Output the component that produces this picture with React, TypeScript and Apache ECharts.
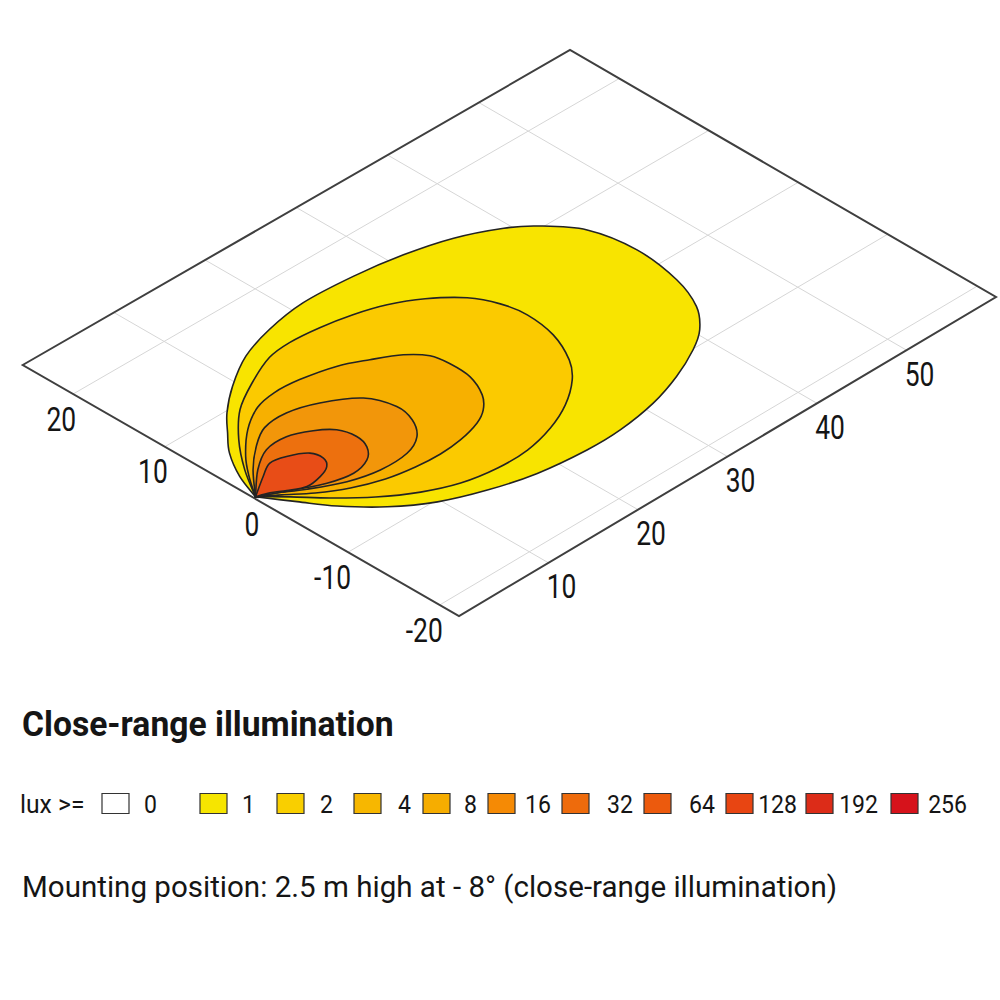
import React, { useEffect, useRef } from 'react';
import * as echarts from 'echarts';

// ---------- data ----------
const DIST_MIN = 0;
const DIST_MAX = 60;
const LAT_MIN = -22.1;
const LAT_MAX = 25.5;
const DIST_TICKS = [10, 20, 30, 40, 50];
const LAT_TICKS = [20, 10, 0, -10, -20];

const LUX_LEVELS = [1, 2, 4, 8, 16, 32];

// isolux outlines, [distance m, lateral m]
const ISO_1 = [[0.2, 0.3], [1.28, 3.09], [2.96, 5.87], [4.77, 7.86], [6.65, 9.79], [9.49, 12.0], [13.08, 14.11], [16.91, 15.35], [21.28, 16.03], [26.57, 15.78], [31.38, 15.06], [35.72, 13.87], [39.43, 12.04], [41.48, 10.4], [43.85, 7.24], [44.7, 2.56], [44.04, -2.51], [42.59, -6.15], [40.55, -8.55], [38.28, -10.08], [34.82, -11.69], [31.0, -12.91], [26.63, -13.6], [22.89, -13.64], [17.92, -13.08], [13.58, -11.88], [9.72, -10.22], [6.49, -7.91], [3.81, -5.07], [2.02, -2.44], [0.2, 0.3]];
const ISO_2 = [[0.2, 0.3], [2.2, 3.45], [4.74, 6.61], [7.68, 9.38], [10.93, 11.26], [14.24, 12.69], [16.77, 13.0], [19.85, 12.75], [22.91, 12.15], [25.73, 11.21], [28.39, 9.67], [30.8, 7.43], [32.04, 5.02], [32.48, 2.48], [32.0, -0.87], [30.5, -4.13], [28.76, -6.19], [25.99, -8.18], [22.97, -9.53], [19.61, -10.34], [16.25, -10.38], [12.78, -9.74], [9.72, -8.37], [6.77, -6.34], [4.2, -3.94], [2.1, -1.62], [0.2, 0.3]];
const ISO_4 = [[0.2, 0.3], [1.79, 2.57], [3.52, 4.65], [6.19, 7.06], [8.82, 8.61], [11.18, 9.09], [13.8, 8.93], [17.08, 8.15], [19.55, 6.94], [21.86, 5.56], [23.23, 3.98], [23.57, 2.11], [23.43, -0.24], [22.38, -2.61], [21.0, -4.09], [19.42, -4.98], [16.88, -5.66], [14.45, -5.88], [11.83, -5.72], [9.04, -5.19], [6.26, -4.1], [3.85, -2.63], [1.85, -0.98], [0.2, 0.3]];
const ISO_8 = [[0.2, 0.3], [2.65, 2.98], [5.06, 5.01], [7.3, 6.32], [9.89, 6.51], [12.68, 5.61], [15.54, 3.67], [16.57, 1.02], [16.15, -1.09], [14.81, -2.94], [12.68, -3.96], [9.62, -4.06], [6.67, -3.32], [3.75, -1.82], [1.75, -0.5], [0.2, 0.3]];
const ISO_16 = [[0.2, 0.3], [2.91, 2.72], [5.3, 4.14], [7.63, 4.26], [9.67, 3.35], [11.05, 2.14], [11.51, 0.4], [11.08, -1.14], [9.84, -2.37], [7.84, -2.89], [5.42, -2.36], [2.95, -1.14], [0.2, 0.3]];
const ISO_32 = [[0.2, 0.3], [2.56, 1.79], [4.21, 2.69], [5.76, 2.39], [7.36, 1.42], [7.62, 0.2], [7.0, -0.78], [5.68, -1.36], [4.0, -1.57], [2.52, -0.84], [1.38, -0.13], [0.2, 0.3]];
const ISOLINES = [ISO_1, ISO_2, ISO_4, ISO_8, ISO_16, ISO_32];

const LEGEND_LEVELS = ['0', '1', '2', '4', '8', '16', '32', '64', '128', '192', '256'];

const TITLE = 'Close-range illumination';
const LEGEND_PREFIX = 'lux >=';
const SUBTITLE = 'Mounting position: 2.5 m high at - 8° (close-range illumination)';

// ---------- styles / layout ----------
const ISO_FILLS = ['#f8e400', '#fbca00', '#f7b000', '#f2960a', '#ed700e', '#e84d17'];
const LEGEND_COLORS = ['#ffffff', '#f6e500', '#f9cf00', '#f7b700', '#f6ad00', '#f58a05', '#ee6b0c', '#ec5a0d', '#e84512', '#dc2c18', '#d6121b'];
const LEGEND_BOX_X = [102, 200, 277, 354, 423, 488, 562, 644, 726, 806, 891];
const LEGEND_TEXT_RIGHT = [157, 255, 333, 411, 477, 551, 633, 715, 797, 878, 967];

// plane corners on screen (perspective drawing of the ground plane)
const NEAR_LEFT = [22.7, 365];
const NEAR_RIGHT = [459, 616];
const FAR_LEFT = [570, 50];
const FAR_RIGHT = [996, 297];

const FONT = "Roboto, 'Liberation Sans', sans-serif";
const INK = '#151515';

function project(api: any, cs: any, d: number, l: number): number[] {
  const p = api.coord([d, l]);
  const s = (p[0] - cs.x) / cs.width;
  const t = (p[1] - cs.y) / cs.height;
  const a = (1 - s) * (1 - t);
  const b = (1 - s) * t;
  const c = s * (1 - t);
  const e = s * t;
  return [
    a * NEAR_LEFT[0] + b * NEAR_RIGHT[0] + c * FAR_LEFT[0] + e * FAR_RIGHT[0],
    a * NEAR_LEFT[1] + b * NEAR_RIGHT[1] + c * FAR_LEFT[1] + e * FAR_RIGHT[1],
  ];
}

function splinePath(pts: number[][]): string {
  const f = (v: number) => v.toFixed(2);
  let d = `M${f(pts[0][0])},${f(pts[0][1])}`;
  const n = pts.length;
  for (let i = 0; i < n - 1; i++) {
    const p0 = pts[Math.max(i - 1, 0)];
    const p1 = pts[i];
    const p2 = pts[i + 1];
    const p3 = pts[Math.min(i + 2, n - 1)];
    const c1 = [p1[0] + (p2[0] - p0[0]) / 6, p1[1] + (p2[1] - p0[1]) / 6];
    const c2 = [p2[0] - (p3[0] - p1[0]) / 6, p2[1] - (p3[1] - p1[1]) / 6];
    d += ` C${f(c1[0])},${f(c1[1])} ${f(c2[0])},${f(c2[1])} ${f(p2[0])},${f(p2[1])}`;
  }
  return d + ' Z';
}

function textStyle(text: string, font: string, align: string) {
  return {
    text,
    font,
    fill: INK,
    align,
    verticalAlign: 'middle',
    textAlign: align,
    textVerticalAlign: 'middle',
  };
}

export default function App() {
  const ref = useRef<HTMLDivElement>(null);

  useEffect(() => {
    if (!ref.current) return;
    const chart = echarts.init(ref.current, null, { renderer: 'svg' });

    const gridLines = [
      ...DIST_TICKS.map((d) => [d, LAT_MIN, d, LAT_MAX]),
      ...LAT_TICKS.map((l) => [DIST_MIN, l, DIST_MAX, l]),
    ];

    const graphicEls: any[] = [
      { type: 'text', x: 22, y: 724, scaleX: 0.935, style: textStyle(TITLE, `bold 36px ${FONT}`, 'left') },
      { type: 'text', x: 20, y: 804, scaleX: 0.95, style: textStyle(LEGEND_PREFIX, `26px ${FONT}`, 'left') },
      { type: 'text', x: 22, y: 886, scaleX: 0.985, style: textStyle(SUBTITLE, `30px ${FONT}`, 'left') },
    ];
    LEGEND_LEVELS.forEach((lab, i) => {
      graphicEls.push({
        type: 'rect',
        shape: { x: LEGEND_BOX_X[i], y: 793.5, width: 27, height: 20 },
        style: { fill: LEGEND_COLORS[i], stroke: '#333333', lineWidth: 1.2 },
      });
      graphicEls.push({
        type: 'text',
        x: LEGEND_TEXT_RIGHT[i],
        y: 804,
        scaleX: 0.87,
        style: textStyle(lab, `26.5px ${FONT}`, 'right'),
      });
    });

    const option: any = {
      animation: false,
      backgroundColor: '#ffffff',
      grid: { left: 100, top: 100, width: 600, height: 480, show: false },
      xAxis: { type: 'value', min: DIST_MIN, max: DIST_MAX, show: false },
      yAxis: { type: 'value', min: LAT_MIN, max: LAT_MAX, show: false },
      graphic: { elements: graphicEls },
      series: [
        {
          type: 'custom',
          name: 'grid',
          coordinateSystem: 'cartesian2d',
          silent: true,
          z: 1,
          encode: { x: [0, 2], y: [1, 3] },
          data: gridLines,
          renderItem: (params: any, api: any) => {
            const cs = params.coordSys;
            const a = project(api, cs, api.value(0), api.value(1));
            const b = project(api, cs, api.value(2), api.value(3));
            return {
              type: 'line',
              shape: { x1: a[0], y1: a[1], x2: b[0], y2: b[1] },
              style: { stroke: '#d6d6d6', lineWidth: 1 },
            };
          },
        },
        {
          type: 'custom',
          name: 'plane',
          coordinateSystem: 'cartesian2d',
          silent: true,
          z: 2,
          encode: { x: [0, 2], y: [1, 3] },
          data: [[DIST_MIN, LAT_MIN, DIST_MAX, LAT_MAX]],
          renderItem: (params: any, api: any) => {
            const cs = params.coordSys;
            const d0 = api.value(0), l0 = api.value(1), d1 = api.value(2), l1 = api.value(3);
            const pts = [
              project(api, cs, d0, l1),
              project(api, cs, d1, l1),
              project(api, cs, d1, l0),
              project(api, cs, d0, l0),
            ];
            return {
              type: 'polygon',
              shape: { points: pts },
              style: { fill: 'none', stroke: '#3f3f3f', lineWidth: 2 },
            };
          },
        },
        {
          type: 'custom',
          name: 'isolux',
          coordinateSystem: 'cartesian2d',
          silent: true,
          z: 3,
          encode: { x: 0, y: 1 },
          data: LUX_LEVELS.map((lux, i) => [i, lux]),
          renderItem: (params: any, api: any) => {
            const cs = params.coordSys;
            const line = ISOLINES[params.dataIndex];
            const pts = line.map((p) => project(api, cs, p[0], p[1]));
            return {
              type: 'path',
              shape: { pathData: splinePath(pts) },
              style: { fill: ISO_FILLS[params.dataIndex], stroke: '#232323', lineWidth: 1.6 },
            };
          },
        },
        {
          type: 'custom',
          name: 'distLabels',
          coordinateSystem: 'cartesian2d',
          silent: true,
          z: 4,
          encode: { x: 0, y: 1 },
          data: DIST_TICKS.map((d) => [d, LAT_MIN]),
          renderItem: (params: any, api: any) => {
            const p = project(api, params.coordSys, api.value(0), api.value(1));
            return {
              type: 'text',
              x: p[0] + 13,
              y: p[1] + 24,
              scaleX: 0.8,
              style: textStyle(String(api.value(0)), `33px ${FONT}`, 'center'),
            };
          },
        },
        {
          type: 'custom',
          name: 'latLabels',
          coordinateSystem: 'cartesian2d',
          silent: true,
          z: 4,
          encode: { x: 0, y: 1 },
          data: LAT_TICKS.map((l) => [DIST_MIN, l]),
          renderItem: (params: any, api: any) => {
            const p = project(api, params.coordSys, api.value(0), api.value(1));
            return {
              type: 'text',
              x: p[0] + 3,
              y: p[1] + 25,
              scaleX: 0.8,
              style: textStyle(String(api.value(1)), `33px ${FONT}`, 'right'),
            };
          },
        },
      ],
    };

    chart.setOption(option);
    return () => chart.dispose();
  }, []);

  return (
    <div
      ref={ref}
      style={{ position: 'fixed', left: 0, top: 0, width: 1000, height: 1000, background: '#ffffff' }}
    />
  );
}
